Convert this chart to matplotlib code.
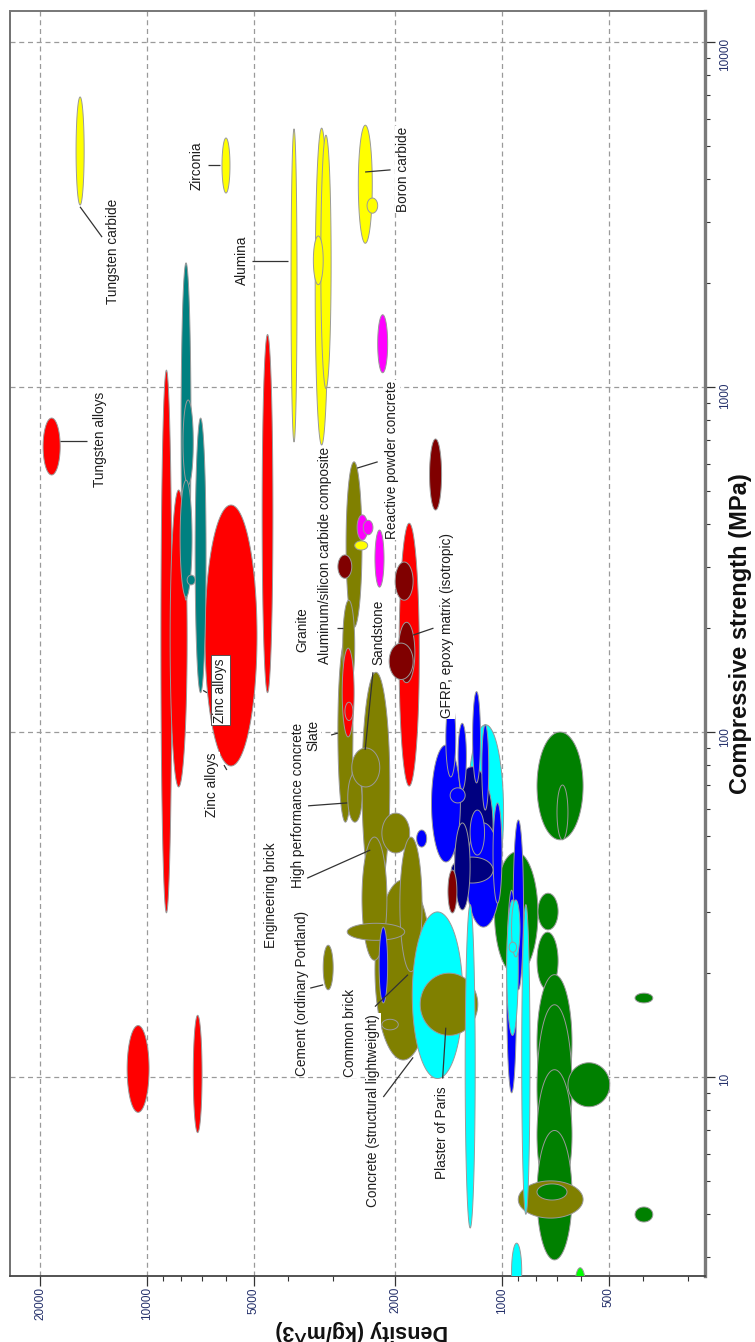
import numpy as np
import matplotlib.pyplot as plt
from matplotlib.patches import Polygon
from matplotlib.ticker import LogLocator, NullFormatter

plt.rcParams['font.family'] = ['Liberation Sans', 'DejaVu Sans']

# every bubble: (density low, density high, strength low, strength high)
# density in kg/m^3, compressive strength in MPa
ceramics_yellow = [
    (15040, 15850, 3370, 6930),   # tungsten carbide
    (5840, 6150, 3650, 5270),     # zirconia
    (3780, 3930, 693, 5600),      # alumina
    (3090, 3360, 679, 5630),
    (3030, 3240, 990, 5370),
    (3190, 3400, 1980, 2740),
    (2320, 2540, 2610, 5740),     # boron carbide
    (2240, 2400, 3190, 3530),
    (2390, 2600, 337, 358),
]
metals_red = [
    (17570, 19630, 556, 813),     # tungsten alloys
    (8510, 9140, 29.9, 1120),
    (7710, 8610, 69.3, 503),
    (4420, 4740, 130, 1420),
    (4900, 6870, 79.7, 455),      # zinc alloys
    (9870, 11380, 7.9, 14.1),
    (7000, 7410, 6.9, 15.1),
    (2610, 2820, 96.8, 175),
    (2630, 2770, 108, 122),
    (1710, 1950, 69.7, 403),
]
metals_teal = [
    (7520, 8020, 241, 2290),
    (7410, 7920, 520, 917),
    (7470, 8070, 246, 537),
    (6820, 7320, 130, 813),
    (7320, 7710, 267, 285),
]
composites_magenta = [
    (2100, 2240, 1100, 1620),
    (2390, 2560, 360, 426),
    (2310, 2460, 373, 411),
    (2150, 2280, 263, 385),
]
composites_maroon = [
    (1480, 1600, 440, 707),
    (2650, 2900, 279, 326),
    (1780, 2000, 241, 311),
    (1760, 1960, 139, 208),
    (1780, 2080, 142, 181),
    (1340, 1420, 29.9, 39.8),
]
stones_olive = [
    (1580, 2280, 11.2, 37.3),     # concrete (structural lightweight)
    (2480, 2750, 201, 607),       # Al/SiC composite
    (2630, 2900, 54.8, 185),      # slate
    (2600, 2810, 132, 241),       # granite
    (2070, 2480, 33, 149),        # sandstone
    (2480, 2720, 54.8, 76),       # high performance concrete
    (2210, 2650, 69.3, 89.9),
    (1820, 2180, 44.6, 58.2),
    (2110, 2480, 21.8, 49.6),
    (1680, 1940, 20.2, 49.6),
    (1880, 2730, 24.9, 27.9),
    (2990, 3190, 17.9, 24.1),     # cement
    (1960, 2180, 13.7, 14.7),
]
stones_olive_front = [
    (1170, 1700, 13.2, 20.0),     # plaster of paris
    (591, 900, 3.9, 5.0),
]
woods_green = [
    (591, 797, 48.7, 100),
    (652, 700, 48.7, 70.2),
    (792, 1050, 19.8, 44.9),
    (695, 792, 26.7, 34.1),
    (695, 797, 17.9, 26.3),
    (635, 797, 8.0, 19.8),
    (635, 797, 5.4, 16.2),
    (635, 797, 4.4, 10.5),
    (635, 797, 2.95, 7.0),
    (497, 652, 8.2, 11.0),
    (376, 422, 16.4, 17.5),
    (376, 422, 3.8, 4.2),
]
woods_green_front = [
    (656, 797, 4.4, 4.9),
]
foams_lime = [
    (583, 622, 2.26, 2.8),
]
foams_cyan = [
    (990, 1250, 32.6, 105),
    (1290, 1790, 9.9, 30.1),
]
foams_cyan_front = [
    (1190, 1270, 3.65, 31.6),
    (900, 970, 13.2, 32.6),
    (890, 940, 22.3, 32.6),
    (910, 955, 23.0, 24.6),
    (834, 880, 4.0, 31.6),
    (880, 940, 2.26, 3.3),
]
polymers_blue = [
    (1310, 1580, 42, 91.7),
    (1350, 1440, 74.1, 124),
    (1260, 1330, 68, 106),
    (1150, 1210, 71.2, 131),
    (1090, 1140, 59.4, 105),
    (1010, 1260, 27.2, 54.5),
    (1000, 1060, 31.9, 62.3),
    (1120, 1230, 44.0, 59.4),
    (1630, 1740, 46.4, 52.0),
    (1270, 1400, 62.3, 68.9),
    (2100, 2220, 16.4, 27.2),
    (870, 930, 17.9, 55.6),
    (910, 970, 9.0, 34.8),
]
elastomers_navy = [
    (1060, 1390, 36.5, 79.3),
]
elastomers_navy_front = [
    (1060, 1390, 36.5, 43.4),
    (1230, 1360, 30.5, 54.5),
]

label_text = [
    'Tungsten carbide', 'Zirconia', 'Alumina', 'Boron carbide',
    'Tungsten alloys', 'Reactive powder concrete',
    'Aluminum/silicon carbide composite', 'Granite', 'Sandstone',
    'High performance concrete', 'Slate', 'Engineering brick',
    'Cement (ordinary Portland)', 'Common brick',
    'Concrete (structural lightweight)', 'Plaster of Paris',
    'GFRP, epoxy matrix (isotropic)', 'Zinc alloys',
]
label_density = [12470, 7230, 5400, 1900, 13560, 2040, 3150, 3640, 2230,
                 3760, 3400, 4480, 3660, 2680, 2310, 1480, 1430, 6560]
label_strength = [2480, 4370, 2330, 4260, 707, 614, 326, 198, 195,
                  61.4, 98, 33.7, 17.5, 13.4, 8.0, 6.9, 204, 70.2]

# leader lines from the labels to their bubbles
leader_density = [(15450, 13390), (6730, 6220), (5060, 4010), (2430, 2060),
                  (17570, 14760), (2560, 2240), (2920, 2810), (2310, 2430),
                  (3030, 2900), (3520, 2730), (3540, 2350), (3470, 3190),
                  (2280, 1840), (2160, 1780), (1470, 1440), (1780, 1560),
                  (6070, 5960), (6950, 6780)]
leader_strength = [(3330, 2720), (4400, 4400), (2320, 2320), (4200, 4260),
                   (697, 697), (582, 607), (200, 200), (149, 88.7),
                   (98, 99.3), (61.1, 62.3), (37.7, 45.5), (18.1, 18.5),
                   (16.0, 19.8), (8.75, 11.4), (9.9, 13.9), (191, 200),
                   (80.2, 77.6), (132, 130)]

density_ticks = [20000, 10000, 5000, 2000, 1000, 500]
strength_ticks = [10, 100, 1000, 10000]


def add_bubble(ax, box, color, z):
    dlo, dhi, slo, shi = box
    t = np.linspace(0, 2 * np.pi, 140)
    cx, rx = np.log10(dlo * dhi) / 2, np.log10(dhi / dlo) / 2
    cy, ry = np.log10(slo * shi) / 2, np.log10(shi / slo) / 2
    pts = np.column_stack([10 ** (cx + rx * np.cos(t)),
                           10 ** (cy + ry * np.sin(t))])
    ax.add_patch(Polygon(pts, closed=True, facecolor=color,
                         edgecolor='#9a9a9a', linewidth=0.7, zorder=z))


fig = plt.figure(figsize=(7.55, 13.42), dpi=100)
ax = fig.add_axes([10 / 755, 1 - 1276 / 1342, 695 / 755, 1265 / 1342])
ax.set_xscale('log')
ax.set_yscale('log')
ax.set_xlim(24330, 268)
ax.set_ylim(2.65, 12300)

layers = [
    (woods_green, '#008000', 2.0),
    (stones_olive, '#808000', 2.5),
    (foams_cyan, '#00ffff', 2.7),
    (stones_olive_front, '#808000', 2.9),
    (woods_green_front, '#008000', 3.0),
    (foams_lime, '#00ff00', 3.0),
    (metals_red, '#ff0000', 3.2),
    (metals_teal, '#008080', 3.4),
    (elastomers_navy, '#000080', 3.5),
    (polymers_blue, '#0000ff', 3.6),
    (elastomers_navy_front, '#000080', 3.7),
    (foams_cyan_front, '#00ffff', 3.8),
    (composites_maroon, '#800000', 3.9),
    (composites_magenta, '#ff00ff', 3.9),
    (ceramics_yellow, '#ffff00', 4.0),
]
for boxes, color, z in layers:
    for box in boxes:
        add_bubble(ax, box, color, z)

for (d1, d2), (s1, s2) in zip(leader_density, leader_strength):
    ax.plot([d1, d2], [s1, s2], color='#333333', lw=0.9, zorder=5,
            solid_capstyle='butt')

for text, d, s in zip(label_text, label_density, label_strength):
    ax.text(d, s, text, rotation=90, ha='center', va='center',
            fontsize=9.8, color='#1e1e1e', zorder=6,
            bbox=dict(facecolor='white', edgecolor='none', pad=0.6))

# the boxed zinc label inside the large red bubble
ax.text(6220, 132, 'Zinc alloys', rotation=90, ha='center', va='center',
        fontsize=9.8, color='#1e1e1e', zorder=6,
        bbox=dict(facecolor='white', edgecolor='#444444', linewidth=0.6,
                  pad=2.0))

ax.set_axisbelow(True)
ax.grid(True, which='major', linestyle=(0, (4, 3)), color='#9a9a9a', lw=0.9)

ax.set_xticks(density_ticks)
ax.set_xticklabels([str(v) for v in density_ticks])
ax.xaxis.set_minor_locator(LogLocator(base=10, subs=np.arange(2, 10)))
ax.xaxis.set_minor_formatter(NullFormatter())

ax.yaxis.tick_right()
ax.set_yticks(strength_ticks)
ax.set_yticklabels([str(v) for v in strength_ticks])
ax.yaxis.set_minor_locator(LogLocator(base=10, subs=np.arange(2, 10)))
ax.yaxis.set_minor_formatter(NullFormatter())

ax.tick_params(which='major', direction='out', length=7, width=0.9,
               color='#333333', labelsize=8.5, labelcolor='#24306a')
ax.tick_params(which='minor', direction='out', length=3.5, width=0.8,
               color='#333333')
ax.tick_params(axis='x', labelrotation=90, pad=1)
ax.tick_params(axis='y', labelrotation=90, pad=3)

for side, lw, col in [('left', 1.3, '#666666'), ('top', 1.4, '#777777'),
                      ('bottom', 1.3, '#444444'), ('right', 2.4, '#7a7a7a')]:
    ax.spines[side].set_linewidth(lw)
    ax.spines[side].set_color(col)

fig.text(740 / 755, 1 - 634 / 1342, 'Compressive strength (MPa)',
         rotation=90, ha='center', va='center', fontsize=17,
         fontweight='bold', color='#111111')
fig.text(362 / 755, 1 - 1330 / 1342, 'Density (kg/m^3)', rotation=180,
         ha='center', va='center', fontsize=15.5, fontweight='bold',
         color='#111111')

fig.savefig('out.png', dpi=100)
